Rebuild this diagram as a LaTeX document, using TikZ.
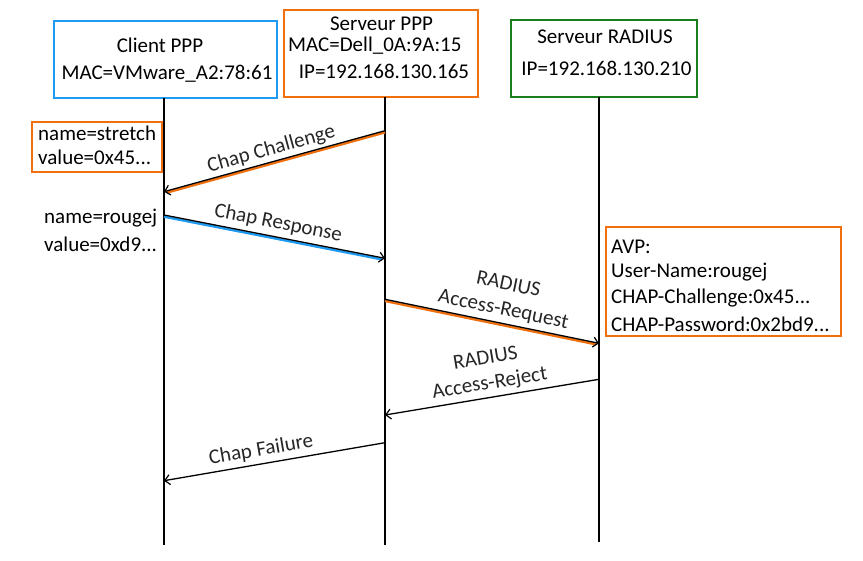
\documentclass[tikz,border=0pt]{standalone}
\usepackage{fontspec}
\setmainfont{Carlito}
\usetikzlibrary{arrows.meta}
\definecolor{cblue}{HTML}{1E9BF0}
\definecolor{corange}{HTML}{F0700F}
\definecolor{cgreen}{HTML}{1A7F1A}
\definecolor{lbl}{HTML}{262626}
\tikzset{
  every node/.style={font=\fontsize{21}{25.5}\selectfont, inner sep=0pt},
  frame/.style={draw=#1, line width=2pt, inner sep=0pt},
  life/.style={line width=1.6pt, black},
  msg/.style={line width=1.3pt, black, -{Straight Barb[length=5pt,width=10pt,line width=1.2pt]}},
  under/.style={#1, line width=2.4pt, shorten >=3pt},
  lab/.style={sloped, anchor=south, inner sep=4pt, text=lbl, align=center},
}
\begin{document}
\begin{tikzpicture}[x=1pt,y=-1pt]
\useasboundingbox (0,0) rectangle (863,561);
% header boxes
\node[frame=cblue, minimum width=223pt, minimum height=77pt] (client) at (165.5,59.5) {};
\node (clientA) at (160,45) {Client PPP};
\node (clientB) at (167,74) {MAC=VMware\_A2:78:61};
\node[frame=corange, minimum width=194pt, minimum height=87pt] (ppp) at (381,53.5) {};
\node (pppA) at (381.5,24) {Serveur PPP};
\node[anchor=west] (pppB) at (288,46) {MAC=Dell\_0A:9A:15};
\node (pppC) at (384,71) {IP=192.168.130.165};
\node[frame=cgreen, minimum width=186pt, minimum height=77pt] (rad) at (604,58.5) {};
\node (radA) at (605,37) {Serveur RADIUS};
\node (radB) at (606.5,68) {IP=192.168.130.210};
% lifelines
\coordinate (cT) at (164,98);  \coordinate (cB) at (164,545);
\coordinate (pT) at (385,97);  \coordinate (pB) at (385,545);
\coordinate (rT) at (599,97);  \coordinate (rB) at (599,542);
\draw[life] (cT) -- (cB);
\draw[life] (pT) -- (pB);
\draw[life] (rT) -- (rB);
% side notes
\node[frame=corange, minimum width=130pt, minimum height=50pt] (stretchbox) at (96.7,146.7) {};
\node[anchor=west] (s1) at (38,133) {name=stretch};
\node[anchor=west] (s2) at (38,157) {value=0x45...};
\node[anchor=west] (r1) at (44,218) {name=rougej};
\node[anchor=west] (r2) at (44,244) {value=0xd9...};
\node[frame=corange, minimum width=235pt, minimum height=109pt] (avpbox) at (723.3,282) {};
\node[anchor=west] (a1) at (611,246.5) {AVP:};
\node[anchor=west] (a2) at (611,272.5) {User-Name:rougej};
\node[anchor=west] (a3) at (611,298.5) {CHAP-Challenge:0x45...};
\node[anchor=west] (a4) at (611,324.5) {CHAP-Password:0x2bd9...};
% messages
\coordinate (m1s) at (385,130.7); \coordinate (m1e) at (164,191.7);
\coordinate (m2s) at (164,215);   \coordinate (m2e) at (385,258.3);
\coordinate (m3s) at (385,299.3); \coordinate (m3e) at (599,343.3);
\coordinate (m4s) at (599,379.3); \coordinate (m4e) at (385,415);
\coordinate (m5s) at (385,442.7); \coordinate (m5e) at (164,480.7);
\draw[under=corange] ([yshift=-1.7pt]m1s) -- ([yshift=-1.7pt]m1e);
\draw[msg] (m1s) -- node[lab, pos=0.5, inner sep=2.5pt] {Chap Challenge} (m1e);
\draw[under=cblue] ([yshift=-1.7pt]m2s) -- ([yshift=-1.7pt]m2e);
\draw[msg] (m2s) -- node[lab, pos=0.505] {Chap Response} (m2e);
\draw[under=corange] ([yshift=-1.7pt]m3s) -- ([yshift=-1.7pt]m3e);
\draw[msg] (m3s) -- node[lab, pos=0.54] {RADIUS\\Access-Request} (m3e);
\draw[msg] (m4s) -- node[lab, pos=0.5] {RADIUS\\Access-Reject} (m4e);
\draw[msg] (m5s) -- node[lab, pos=0.55] {Chap Failure} (m5e);
\end{tikzpicture}
\end{document}
